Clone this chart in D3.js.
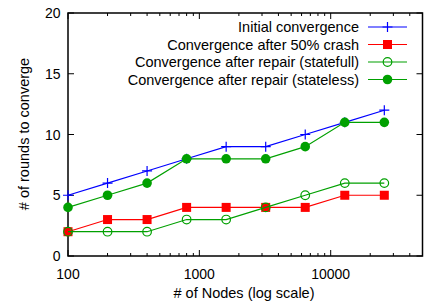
<!DOCTYPE html>
<html><head><meta charset="utf-8">
<script src="https://cdn.jsdelivr.net/npm/d3@7"></script>
<style>body{margin:0;background:#fff}text{font-family:"Liberation Sans",Arial,sans-serif}</style>
</head><body>
<svg id="c" width="432" height="306"></svg>
<script>
const nodes = [100, 200, 400, 800, 1600, 3200, 6400, 12800, 25600];
const initialConv = [5, 6, 7, 8, 9, 9, 10, 11, 12];
const crashConv = [2, 3, 3, 4, 4, 4, 4, 5, 5];
const statefullConv = [2, 2, 2, 3, 3, 4, 5, 6, 6];
const statelessConv = [4, 5, 6, 8, 8, 8, 9, 11, 11];
const seriesNames = ["Initial convergence", "Convergence after 50% crash", "Convergence after repair (statefull)", "Convergence after repair (stateless)"];
const yTicks = [0, 5, 10, 15, 20];
const xTicks = [100, 1000, 10000];

const svg = d3.select("#c");
const L = 68, R = 422.5, T = 13, B = 256;
const x = d3.scaleLog().domain([100, 50000]).range([L, R]);
const y = d3.scaleLinear().domain([0, 20]).range([B, T]);

const minor = [];
for (let d = 100; d < 50000; d *= 10) for (let k = 2; k <= 9; k++) if (d * k <= 50000) minor.push(d * k);

const g = svg.append("g");
const tk = g.append("g").attr("stroke", "#000").attr("stroke-width", 1);
yTicks.forEach(v => {
  tk.append("line").attr("x1", L).attr("x2", L + 6).attr("y1", y(v)).attr("y2", y(v));
  tk.append("line").attr("x1", R).attr("x2", R - 6).attr("y1", y(v)).attr("y2", y(v));
});
xTicks.forEach(v => {
  tk.append("line").attr("x1", x(v)).attr("x2", x(v)).attr("y1", B).attr("y2", B - 6);
  tk.append("line").attr("x1", x(v)).attr("x2", x(v)).attr("y1", T).attr("y2", T + 6);
});
minor.forEach(v => {
  tk.append("line").attr("x1", x(v)).attr("x2", x(v)).attr("y1", B).attr("y2", B - 3);
  tk.append("line").attr("x1", x(v)).attr("x2", x(v)).attr("y1", T).attr("y2", T + 3);
});
g.append("rect").attr("x", L).attr("y", T).attr("width", R - L).attr("height", B - T)
  .attr("fill", "none").attr("stroke", "#000").attr("stroke-width", 1.5);

yTicks.forEach(v => g.append("text").attr("x", 60.5).attr("y", y(v)).attr("dy", "0.36em")
  .attr("text-anchor", "end").attr("font-size", 14).text(v));
xTicks.forEach(v => g.append("text").attr("x", x(v)).attr("y", 279)
  .attr("text-anchor", "middle").attr("font-size", 14).text(v));

g.append("text").attr("transform", `translate(29,134) rotate(-90)`)
  .attr("text-anchor", "middle").attr("font-size", 14.5).text("# of rounds to converge");
g.append("text").attr("x", 244).attr("y", 298)
  .attr("text-anchor", "middle").attr("font-size", 14.5).text("# of Nodes (log scale)");

const colors = ["#0000ff", "#ff0000", "#00a000", "#00a000"];
const data = [initialConv, crashConv, statefullConv, statelessConv];
const line = d3.line().x((d, i) => x(nodes[i])).y(d => y(d));

function marker(sel, type, cx, cy, col) {
  if (type === 0) {
    sel.append("path").attr("d", `M${cx - 5},${cy}H${cx + 5}M${cx},${cy - 5}V${cy + 5}`)
      .attr("stroke", col).attr("stroke-width", 1.2);
  } else if (type === 1) {
    sel.append("rect").attr("x", cx - 4.5).attr("y", cy - 4.5).attr("width", 9).attr("height", 9).attr("fill", col);
  } else if (type === 2) {
    sel.append("circle").attr("cx", cx).attr("cy", cy).attr("r", 4.3).attr("fill", "none").attr("stroke", col).attr("stroke-width", 1.2);
  } else {
    sel.append("circle").attr("cx", cx).attr("cy", cy).attr("r", 4.8).attr("fill", col);
  }
}

data.forEach((s, k) => {
  const sg = g.append("g");
  sg.append("path").attr("d", line(s)).attr("fill", "none").attr("stroke", colors[k]).attr("stroke-width", 1.2);
  s.forEach((v, i) => marker(sg, k, x(nodes[i]), y(v), colors[k]));
});

const ly = [27, 44.5, 62, 79.5];
seriesNames.forEach((n, k) => {
  g.append("text").attr("x", 359).attr("y", ly[k]).attr("dy", "0.36em").attr("text-anchor", "end")
    .attr("font-size", 14.5).text(n);
  g.append("line").attr("x1", 368).attr("x2", 407).attr("y1", ly[k]).attr("y2", ly[k])
    .attr("stroke", colors[k]).attr("stroke-width", 1.2);
  marker(g, k, 387.5, ly[k], colors[k]);
});
</script>
</body></html>
